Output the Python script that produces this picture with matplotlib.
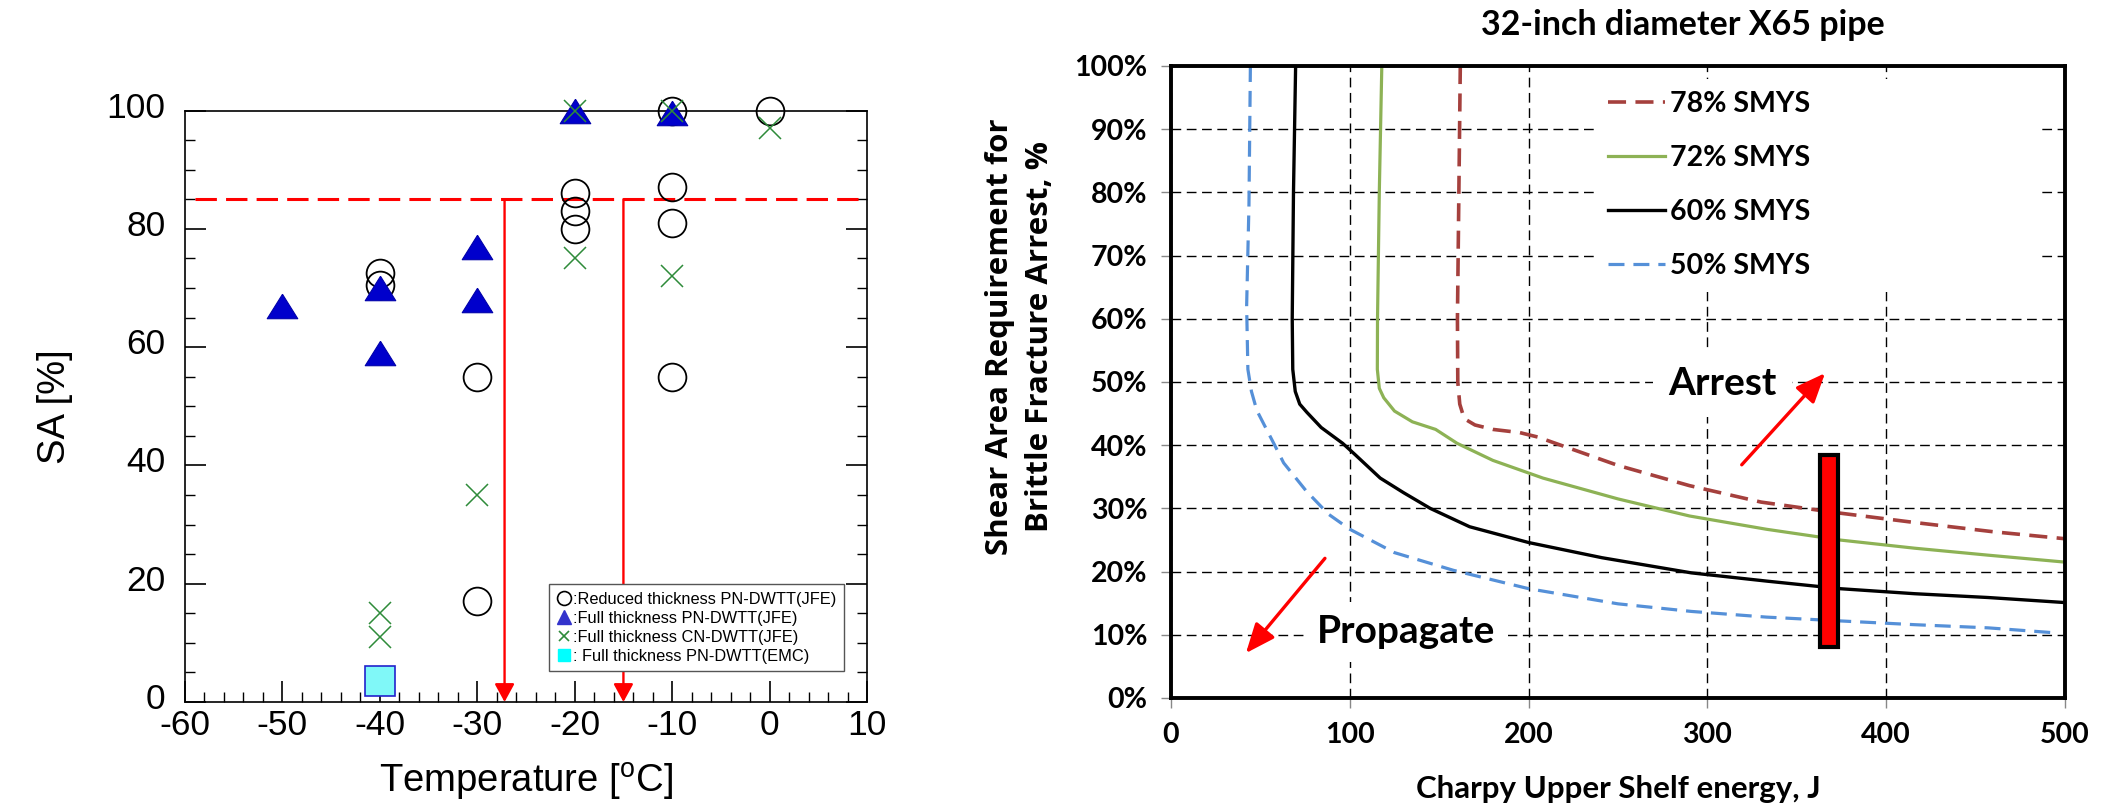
import numpy as np
import matplotlib.pyplot as plt
import matplotlib.transforms as mtransforms
from matplotlib.lines import Line2D
from matplotlib.ticker import MultipleLocator, FuncFormatter

plt.rcParams['mathtext.fontset'] = 'custom'
plt.rcParams['mathtext.rm'] = 'Liberation Sans'
plt.rcParams['axes.unicode_minus'] = False

# ---- left panel: DWTT shear area vs temperature ----
circle_t = [-40, -40, -30, -30, -20, -20, -20, -10, -10, -10, -10, 0]
circle_sa = [72.5, 70.5, 55, 17, 86, 83, 80, 100, 87, 81, 55, 100]
tri_t = [-50, -40, -40, -30, -30, -20, -10]
tri_sa = [67, 70, 59, 77, 68, 100, 99.5]
cross_t = [-40, -40, -30, -20, -20, -10, -10, 0]
cross_sa = [15, 11, 35, 100, 75, 100, 72, 97]
emc_t = [-40]
emc_sa = [3.5]
sa_limit = 85
arrow_t = [-27.2, -15]
legend_left = [':Reduced thickness PN-DWTT(JFE)',
               ':Full thickness PN-DWTT(JFE)',
               ':Full thickness CN-DWTT(JFE)',
               ': Full thickness PN-DWTT(EMC)']

# ---- right panel: shear area requirement curves ----
smys78_x = [161.8, 161.0, 160.2, 160.4, 161.5, 164, 170, 180, 195, 205, 220, 250, 290, 330, 370, 415, 460, 500]
smys78_y = [100, 80, 60, 50, 46.5, 44.2, 43.2, 42.5, 42, 41.3, 39.8, 36.8, 33.6, 31.0, 29.4, 27.8, 26.3, 25.2]
smys72_x = [117.9, 116.5, 115.5, 115.4, 116.5, 119, 125, 135, 148, 160, 180, 208, 250, 290, 333, 374, 416, 457, 500]
smys72_y = [100, 80, 60, 52, 49, 47.5, 45.4, 43.7, 42.5, 40.3, 37.6, 34.8, 31.5, 28.8, 26.7, 25.0, 23.7, 22.6, 21.5]
smys60_x = [69.7, 68.5, 67.8, 68.1, 69.5, 72, 76, 84, 96, 103, 117, 130, 145, 167, 200, 241, 291, 333, 374, 416, 457, 500]
smys60_y = [100, 80, 60, 52, 48.5, 46.5, 45.2, 42.8, 40.3, 38.5, 34.8, 32.5, 30.0, 27.1, 24.6, 22.2, 19.8, 18.5, 17.3, 16.5, 15.9, 15.1]
smys50_x = [44.4, 43.6, 42.3, 43, 45, 48, 52.7, 58, 63, 75.5, 88, 100, 125, 158, 200, 250, 291, 333, 374, 416, 457, 495]
smys50_y = [100, 78, 62, 52, 48.5, 45.5, 42.9, 40, 37.2, 32.8, 29.1, 26.7, 23, 20.2, 17.3, 14.9, 13.7, 12.8, 12.2, 11.6, 11.1, 10.3]
pipe_energy = 368
pipe_sa_low = 8
pipe_sa_high = 38.5

W, H = 2113, 806
fig = plt.figure(figsize=(W / 100, H / 100), dpi=100)

# ================= left chart =================
ax1 = fig.add_axes([185 / W, (H - 702) / H, (867 - 185) / W, (702 - 110.5) / H])
arial = 'Liberation Sans'

ax1.plot(circle_t, circle_sa, linestyle='none', marker='o', markersize=20,
         markerfacecolor='none', markeredgecolor='black', markeredgewidth=1.3,
         clip_on=False, zorder=3)
tri_marker = [(0, 0.8), (-1, -0.8), (1, -0.8), (0, 0.8)]
ax1.plot(tri_t, tri_sa, linestyle='none', marker=tri_marker, markersize=22,
         markerfacecolor='#0000cc', markeredgecolor='#0000aa', markeredgewidth=0.8,
         clip_on=False, zorder=4)
ax1.plot(cross_t, cross_sa, linestyle='none', marker='x', markersize=16,
         markeredgecolor='#2e8b3a', markeredgewidth=1.1, clip_on=False, zorder=5)
ax1.plot(emc_t, emc_sa, linestyle='none', marker='s', markersize=22,
         markerfacecolor='#80f8f8', markeredgecolor='#2222cc', markeredgewidth=1.2,
         clip_on=False, zorder=4)

ax1.plot([-59, 10], [sa_limit, sa_limit], color='red', lw=2.2, dashes=(7, 3), zorder=2)
for t in arrow_t:
    ax1.annotate('', xy=(t, 0), xytext=(t, sa_limit),
                 arrowprops=dict(arrowstyle='-|>,head_length=0.55,head_width=0.3',
                                 color='red', lw=1.7, mutation_scale=20,
                                 shrinkA=0, shrinkB=0), zorder=2)

ax1.set_xlim(-60, 10)
ax1.set_ylim(0, 100)
ax1.xaxis.set_major_locator(MultipleLocator(10))
ax1.xaxis.set_minor_locator(MultipleLocator(2))
ax1.yaxis.set_major_locator(MultipleLocator(20))
ax1.yaxis.set_minor_locator(MultipleLocator(5))
ax1.tick_params(which='both', direction='in', left=True, right=True, top=False, bottom=True)
ax1.tick_params(which='major', length=15, width=1.2)
ax1.tick_params(which='minor', length=7, width=1.0)
ax1.tick_params(axis='x', which='major', pad=5)
ax1.tick_params(axis='y', which='major', pad=14)
for lab in ax1.get_xticklabels() + ax1.get_yticklabels():
    lab.set_fontfamily(arial)
    lab.set_fontsize(25.5)
# labels in the source sit a little above their ticks
lift = mtransforms.ScaledTranslation(0, 6 / 100, fig.dpi_scale_trans)
for lab in ax1.get_yticklabels():
    lab.set_transform(lab.get_transform() + lift)
for sp in ax1.spines.values():
    sp.set_linewidth(1.2)
ax1.set_xlabel(r'Temperature [$^\mathrm{o}$C]', fontsize=27.5, family=arial, labelpad=14)
ax1.set_ylabel('SA [%]', fontsize=27.5, family=arial, labelpad=24)

handles = [
    Line2D([], [], linestyle='none', marker='o', markersize=10, markerfacecolor='none',
           markeredgecolor='black', markeredgewidth=1.2),
    Line2D([], [], linestyle='none', marker='^', markersize=10, markerfacecolor='#3333cc',
           markeredgecolor='#3333cc'),
    Line2D([], [], linestyle='none', marker='x', markersize=7, markeredgecolor='#2e8b3a',
           markeredgewidth=1.2),
    Line2D([], [], linestyle='none', marker='s', markersize=9, markerfacecolor='#00ffff',
           markeredgecolor='#00ffff'),
]
leg1 = ax1.legend(handles, legend_left, loc='lower right', bbox_to_anchor=(0.966, 0.052),
                  borderaxespad=0, fancybox=False, framealpha=1, edgecolor='#555555',
                  prop={'family': arial, 'size': 11.8}, handlelength=0.9, handletextpad=0.1,
                  labelspacing=0.25, borderpad=0.45)
leg1.get_frame().set_linewidth(1.0)

# ================= right chart =================
ax2 = fig.add_axes([1171 / W, (H - 698) / H, (2065 - 1171) / W, (698 - 66) / H])
bold = dict(family='Lato', weight='bold')

ax2.plot(smys78_x, smys78_y, color='#a5403d', lw=2.6, dashes=(5, 2.6), label='78% SMYS', zorder=3)
ax2.plot(smys72_x, smys72_y, color='#8db255', lw=2.3, label='72% SMYS', zorder=3)
ax2.plot(smys60_x, smys60_y, color='black', lw=2.4, label='60% SMYS', zorder=3)
ax2.plot(smys50_x, smys50_y, color='#5590d8', lw=2.3, dashes=(5, 2.8), label='50% SMYS', zorder=3)

ax2.bar([pipe_energy], [pipe_sa_high - pipe_sa_low], bottom=pipe_sa_low, width=10,
        color='red', edgecolor='black', linewidth=3, zorder=4)

ax2.annotate('', xy=(365.8, 51.4), xytext=(319.2, 36.9),
             arrowprops=dict(arrowstyle='-|>,head_length=0.6,head_width=0.25', color='red',
                             lw=2.4, mutation_scale=30, shrinkA=0, shrinkB=0), zorder=5)
ax2.annotate('', xy=(41.9, 7.1), xytext=(86.1, 22.1),
             arrowprops=dict(arrowstyle='-|>,head_length=0.6,head_width=0.25', color='red',
                             lw=2.4, mutation_scale=30, shrinkA=0, shrinkB=0), zorder=5)
ax2.text(308.6, 49.7, 'Arrest', fontsize=28, ha='center', va='center', zorder=4,
         bbox=dict(facecolor='white', edgecolor='none', pad=11), **bold)
ax2.text(131.7, 10.5, 'Propagate', fontsize=28, ha='center', va='center', zorder=4,
         bbox=dict(facecolor='white', edgecolor='none', pad=9), **bold)

ax2.set_xlim(0, 500)
ax2.set_ylim(0, 100)
ax2.xaxis.set_major_locator(MultipleLocator(100))
ax2.yaxis.set_major_locator(MultipleLocator(10))
ax2.yaxis.set_major_formatter(FuncFormatter(lambda v, p: f'{v:.0f}%'))
ax2.grid(True, color='black', lw=1.0, linestyle=(0, (7, 4)), zorder=1)
ax2.set_axisbelow(True)
ax2.tick_params(direction='out', length=7, width=1, color='#888888', pad=10)
for lab in ax2.get_xticklabels() + ax2.get_yticklabels():
    lab.set_fontfamily('Lato')
    lab.set_fontweight('bold')
    lab.set_fontsize(20.5)
for sp in ax2.spines.values():
    sp.set_linewidth(2.8)
    sp.set_zorder(6)

leg2 = ax2.legend(loc='upper left', bbox_to_anchor=(0.474, 0.646, 0.498, 0.334),
                  mode='expand', frameon=True, fancybox=False, framealpha=1,
                  facecolor='white', edgecolor='none',
                  prop={'family': 'Lato', 'weight': 'bold', 'size': 20.5},
                  handlelength=2.0, handletextpad=0.2, labelspacing=0.98, borderpad=0.45,
                  borderaxespad=0)
leg2.set_zorder(5)

ax2.set_xlabel('Charpy Upper Shelf energy, J', fontsize=22.5, labelpad=20, **bold)
fig.text(1020 / W, 1 - 337 / H, 'Shear Area Requirement for\nBrittle Fracture Arrest, %',
         rotation=90, ha='center', va='center', multialignment='center',
         fontsize=22.5, linespacing=1.4, family='Open Sans', weight='bold')
fig.text(1683 / W, 1 - 25 / H, '32-inch diameter X65 pipe', ha='center', va='center',
         fontsize=24.5, **bold)

fig.savefig('out.png', dpi=100)
